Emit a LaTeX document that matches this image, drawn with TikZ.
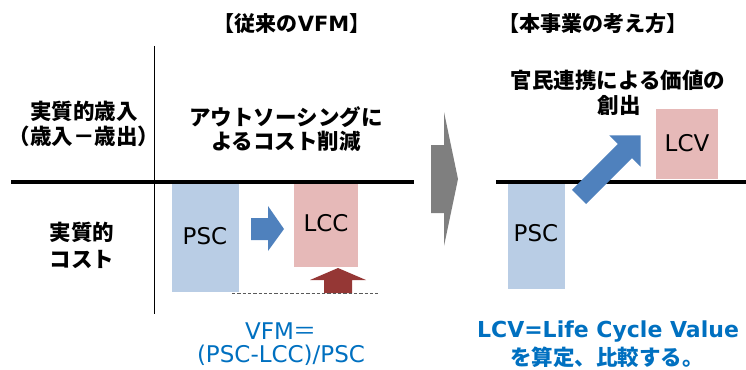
\documentclass[tikz,border=0pt]{standalone}
\usepackage{fontspec}
\setmainfont{DejaVu Sans}
\newfontfamily\jp{Noto Sans CJK JP}
\definecolor{pscblue}{HTML}{B9CDE5}
\definecolor{lccpink}{HTML}{E6B9B8}
\definecolor{arrowblue}{HTML}{4F81BD}
\definecolor{arrowred}{HTML}{953735}
\definecolor{arrowgray}{HTML}{7F7F7F}
\definecolor{dashgray}{HTML}{595959}
\definecolor{noteblue}{HTML}{0070C0}
\tikzset{
  lbl/.style={inner sep=0pt, font=\fontsize{21.5}{24}\selectfont\jp\bfseries},
  ttl/.style={inner sep=0pt, font=\fontsize{21}{24}\selectfont\bfseries},
  boxtxt/.style={inner sep=0pt, font=\fontsize{23}{26}\selectfont},
  note/.style={inner sep=0pt, text=noteblue, font=\fontsize{23}{26}\selectfont},
  boldnote/.style={inner sep=0pt, text=noteblue, font=\fontsize{22}{26}\selectfont\bfseries},
  axis/.style={line width=3.5pt},
}
\begin{document}
\begin{tikzpicture}[x=1pt,y=-1pt]
\useasboundingbox (0,0) rectangle (746,369);
% axes
\draw[line width=1pt] (154,46) -- (154,314);
\draw[axis] (11,182) -- (414,182);
\draw[axis] (496,182) -- (746,182);

% titles
\node[ttl] (t1) at (292,24) {{\jp 【従来の}VFM{\jp 】}};
\node[ttl] (t2) at (593,24) {\jp 【本事業の考え方】};

% row labels
\node[lbl] (r1a) at (84,111) {実質的歳入};
\node[lbl] (r1b) at (84,136) {（歳入－歳出）};
\node[lbl] (r2a) at (82,232) {実質的};
\node[lbl] (r2b) at (82,259) {コスト};

% conventional VFM
\node[lbl] (c1) at (286,117) {アウトソーシングに};
\node[lbl] (c2) at (286,141) {よるコスト削減};
\fill[pscblue] (172,184) rectangle (239,292);
\node[boxtxt] (psc1) at (205,236) {PSC};
\fill[lccpink] (294,184) rectangle (358,267);
\node[boxtxt] (lcc) at (326,223) {LCC};
\fill[arrowblue] (251,218) -- (268,218) -- (268,206) -- (284,229) -- (268,251) -- (268,240) -- (251,240) -- cycle;
\fill[arrowred] (324,293) -- (324,280) -- (310,280) -- (338,268) -- (366,280) -- (352,280) -- (352,293) -- cycle;
\draw[dashgray, line width=1.5pt, dash pattern=on 3.3pt off 2pt] (232,293.5) -- (379,293.5);
\node[note] (f1) at (281,331) {VFM{\jp ＝}};
\node[note] (f2) at (281,355) {(PSC-LCC)/PSC};

% transition arrow
\fill[arrowgray] (431,145) -- (444,145) -- (444,112) -- (458,179) -- (444,246) -- (444,213) -- (431,213) -- cycle;

% this project
\node[lbl] (p1) at (618,80) {官民連携による価値の};
\node[lbl] (p2) at (619,105) {創出};
\fill[pscblue] (508,184) rectangle (565,289);
\node[boxtxt] (psc2) at (536,233) {PSC};
\fill[lccpink] (656,109) rectangle (718,179);
\node[boxtxt] (lcv) at (687,143) {LCV};
\begin{scope}[shift={(579,197)}, rotate=45]
  \fill[arrowblue] (0,-10) -- (65,-10) -- (65,-22) -- (87,0) -- (65,22) -- (65,10) -- (0,10) -- cycle;
\end{scope}
\node[boldnote] (n1) at (608,332) {LCV=Life Cycle Value};
\node[boldnote, font=\fontsize{21.5}{26}\selectfont\jp\bfseries] (n2) at (607,357) {を算定、比較する。};
\end{tikzpicture}
\end{document}
